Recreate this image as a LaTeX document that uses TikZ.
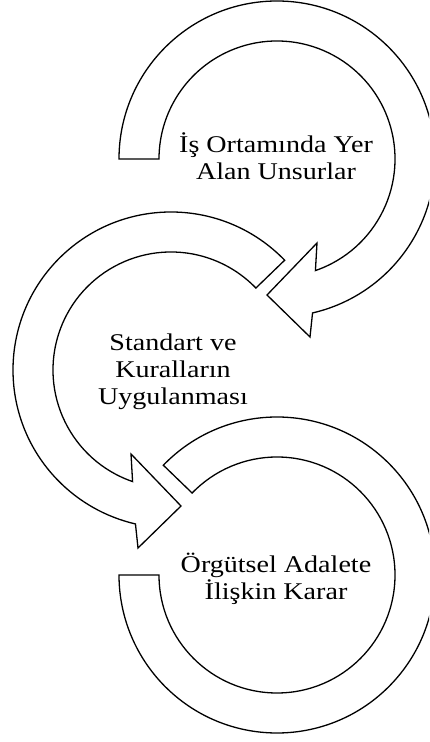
\documentclass[tikz,border=0pt]{standalone}
\usepackage{fontspec}
\setmainfont{Liberation Serif}[FakeStretch=1.17]
\begin{document}
\begin{tikzpicture}[x=1pt,y=1pt,
  arrowshape/.style={draw=black, line width=1.3pt, fill=white, line join=miter},
  lbl/.style={font=\fontsize{24}{27}\selectfont, align=center, inner sep=0pt}]
\useasboundingbox (0,0) rectangle (429,742);
\clip (0,0) rectangle (429,742);
\coordinate (c1) at (277,583);
\coordinate (c2) at (171,372);
\coordinate (c3) at (277,167);
% arrow 1
\draw[arrowshape] ([shift={(180:158)}]c1) arc[start angle=180, end angle=-77, radius=158]
  -- ([shift={(33,-178)}]c1) -- ([shift={(-10,-136)}]c1) -- ([shift={(40,-84)}]c1)
  -- ([shift={(-71:118)}]c1) arc[start angle=-71, end angle=180, radius=118] -- cycle;
% arrow 2
\draw[arrowshape] ([shift={(44:158)}]c2) arc[start angle=44, end angle=257, radius=158]
  -- ([shift={(-33,-178)}]c2) -- ([shift={(10,-136)}]c2) -- ([shift={(-40,-84)}]c2)
  -- ([shift={(251:118)}]c2) arc[start angle=251, end angle=44, radius=118] -- cycle;
% arrow 3
\draw[arrowshape] ([shift={(136:158)}]c3) arc[start angle=136, end angle=-180, radius=158]
  -- ([shift={(-180:118)}]c3) arc[start angle=-180, end angle=136, radius=118] -- cycle;
\node[lbl, anchor=base] (t1) at (276,562) {İş Ortamında Yer\\Alan Unsurlar};
\node[lbl, anchor=base] (t2) at (173,337) {Standart ve\\Kuralların\\Uygulanması};
\node[lbl, anchor=base] (t3) at (276,142) {Örgütsel Adalete\\İlişkin Karar};
\end{tikzpicture}
\end{document}
